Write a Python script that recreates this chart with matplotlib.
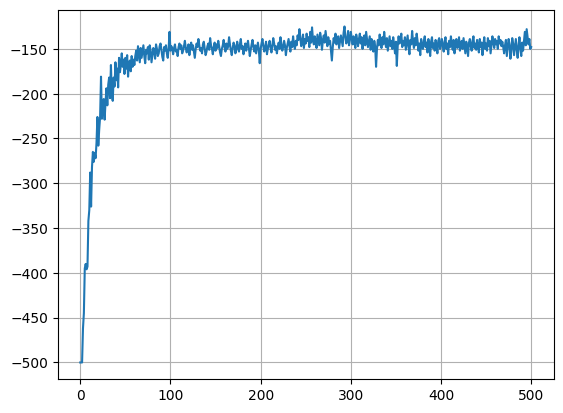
import matplotlib
matplotlib.use("Agg")
import matplotlib.pyplot as plt
import numpy as np

# episode rewards (episodes 0..500)
start = [
    -500, -500, -500, -462, -445, -395, -390, -396, -393, -342,
    -330, -288, -326, -282, -265, -276, -266, -272, -255, -226,
    -258, -240, -226, -181, -228, -214, -206, -229, -210, -194,
    -213, -190, -182, -205, -168, -201, -208, -182, -192, -165,
    -185, -172, -193, -160, -176, -168, -155, -170, -162, -178,
    -160, -172, -157, -181, -166, -163, -175, -158, -170, -162,
    -168, -158, -152, -163, -147, -156, -165, -149, -160, -153,
    -146, -158, -166, -151, -155, -148, -162, -146, -152, -165,
    -157, -149, -153, -161, -145, -150, -158, -155, -147, -144,
    -151, -159, -163, -148, -152, -146, -155, -160, -149, -131,
]
middle = [
    -152, -147, -150, -156, -149, -145, -153, -151, -158, -148,
    -144, -150, -146, -155, -152, -147, -141, -149, -154, -150,
    -145, -157, -148, -143, -151, -146, -153, -160, -150, -144,
    -148, -139, -146, -152, -149, -155, -145, -142, -150, -157,
    -153, -147, -144, -151, -138, -146, -150, -156, -148, -143,
    -152, -145, -149, -141, -147, -154, -158, -150, -146, -140,
    -148, -153, -144, -150, -147, -137, -145, -152, -157, -149,
    -143, -146, -155, -151, -142, -148, -153, -145, -139, -150,
    -147, -156, -149, -144, -152, -146, -141, -150, -158, -151,
    -145, -140, -148, -153, -146, -155, -149, -143, -151, -166,
    -150, -144, -139, -147, -153, -148, -142, -156, -150, -145,
    -141, -149, -154, -146, -138, -144, -151, -147, -155, -148,
    -143, -150, -137, -145, -152, -148, -141, -146, -157, -149,
    -144, -139, -147, -153, -142, -148, -136, -145, -150, -141,
    -146, -135, -140, -128, -138, -147, -142, -134, -149, -139,
    -144, -133, -141, -137, -148, -131, -143, -126, -139, -145,
    -136, -142, -149, -134, -140, -146, -132, -138, -151, -141,
    -135, -143, -130, -139, -147, -137, -144, -141, -152, -163,
    -148, -138, -143, -133, -145, -140, -136, -149, -142, -135,
    -141, -147, -132, -125, -137, -144, -139, -130, -146, -140,
]
late = [
    -131, -138, -145, -136, -142, -149, -134, -140, -147, -139,
    -133, -144, -137, -150, -141, -135, -146, -131, -140, -148,
    -142, -136, -151, -139, -145, -153, -141, -147, -170, -150,
    -140, -146, -134, -143, -149, -137, -145, -131, -141, -148,
    -138, -152, -144, -136, -147, -141, -150, -137, -145, -155,
    -142, -169, -147, -136, -144, -139, -133, -148, -141, -146,
    -137, -151, -143, -135, -148, -156, -140, -145, -130, -142,
    -149, -138, -146, -133, -141, -152, -144, -157, -139, -147,
    -150, -141, -136, -148, -143, -154, -139, -146, -158, -142,
    -137, -149, -144, -152, -140, -146, -155, -141, -138, -150,
    -145, -139, -147, -153, -142, -137, -150, -144, -156, -141,
    -148, -136, -145, -151, -140, -155, -143, -139, -149, -146,
    -137, -152, -144, -141, -150, -138, -147, -155, -142, -148,
    -158, -143, -139, -147, -152, -141, -136, -149, -144, -151,
    -140, -146, -154, -139, -148, -143, -157, -145, -137, -150,
    -144, -152, -138, -147, -141, -155, -146, -136, -143, -149,
    -139, -145, -141, -150, -136, -144, -140, -147, -142, -148,
    -155, -146, -140, -158, -149, -139, -145, -161, -152, -138,
    -144, -157, -148, -139, -151, -160, -146, -137, -150, -158,
    -143, -152, -141, -131, -146, -128, -137, -145, -139, -150,
    -148,
]

rewards = np.array(start + middle + late)
episodes = np.arange(len(rewards))

plt.figure(figsize=(6.4, 4.8), dpi=100)
plt.plot(episodes, rewards)
plt.grid(True)
plt.savefig("out.png", bbox_inches="tight")
